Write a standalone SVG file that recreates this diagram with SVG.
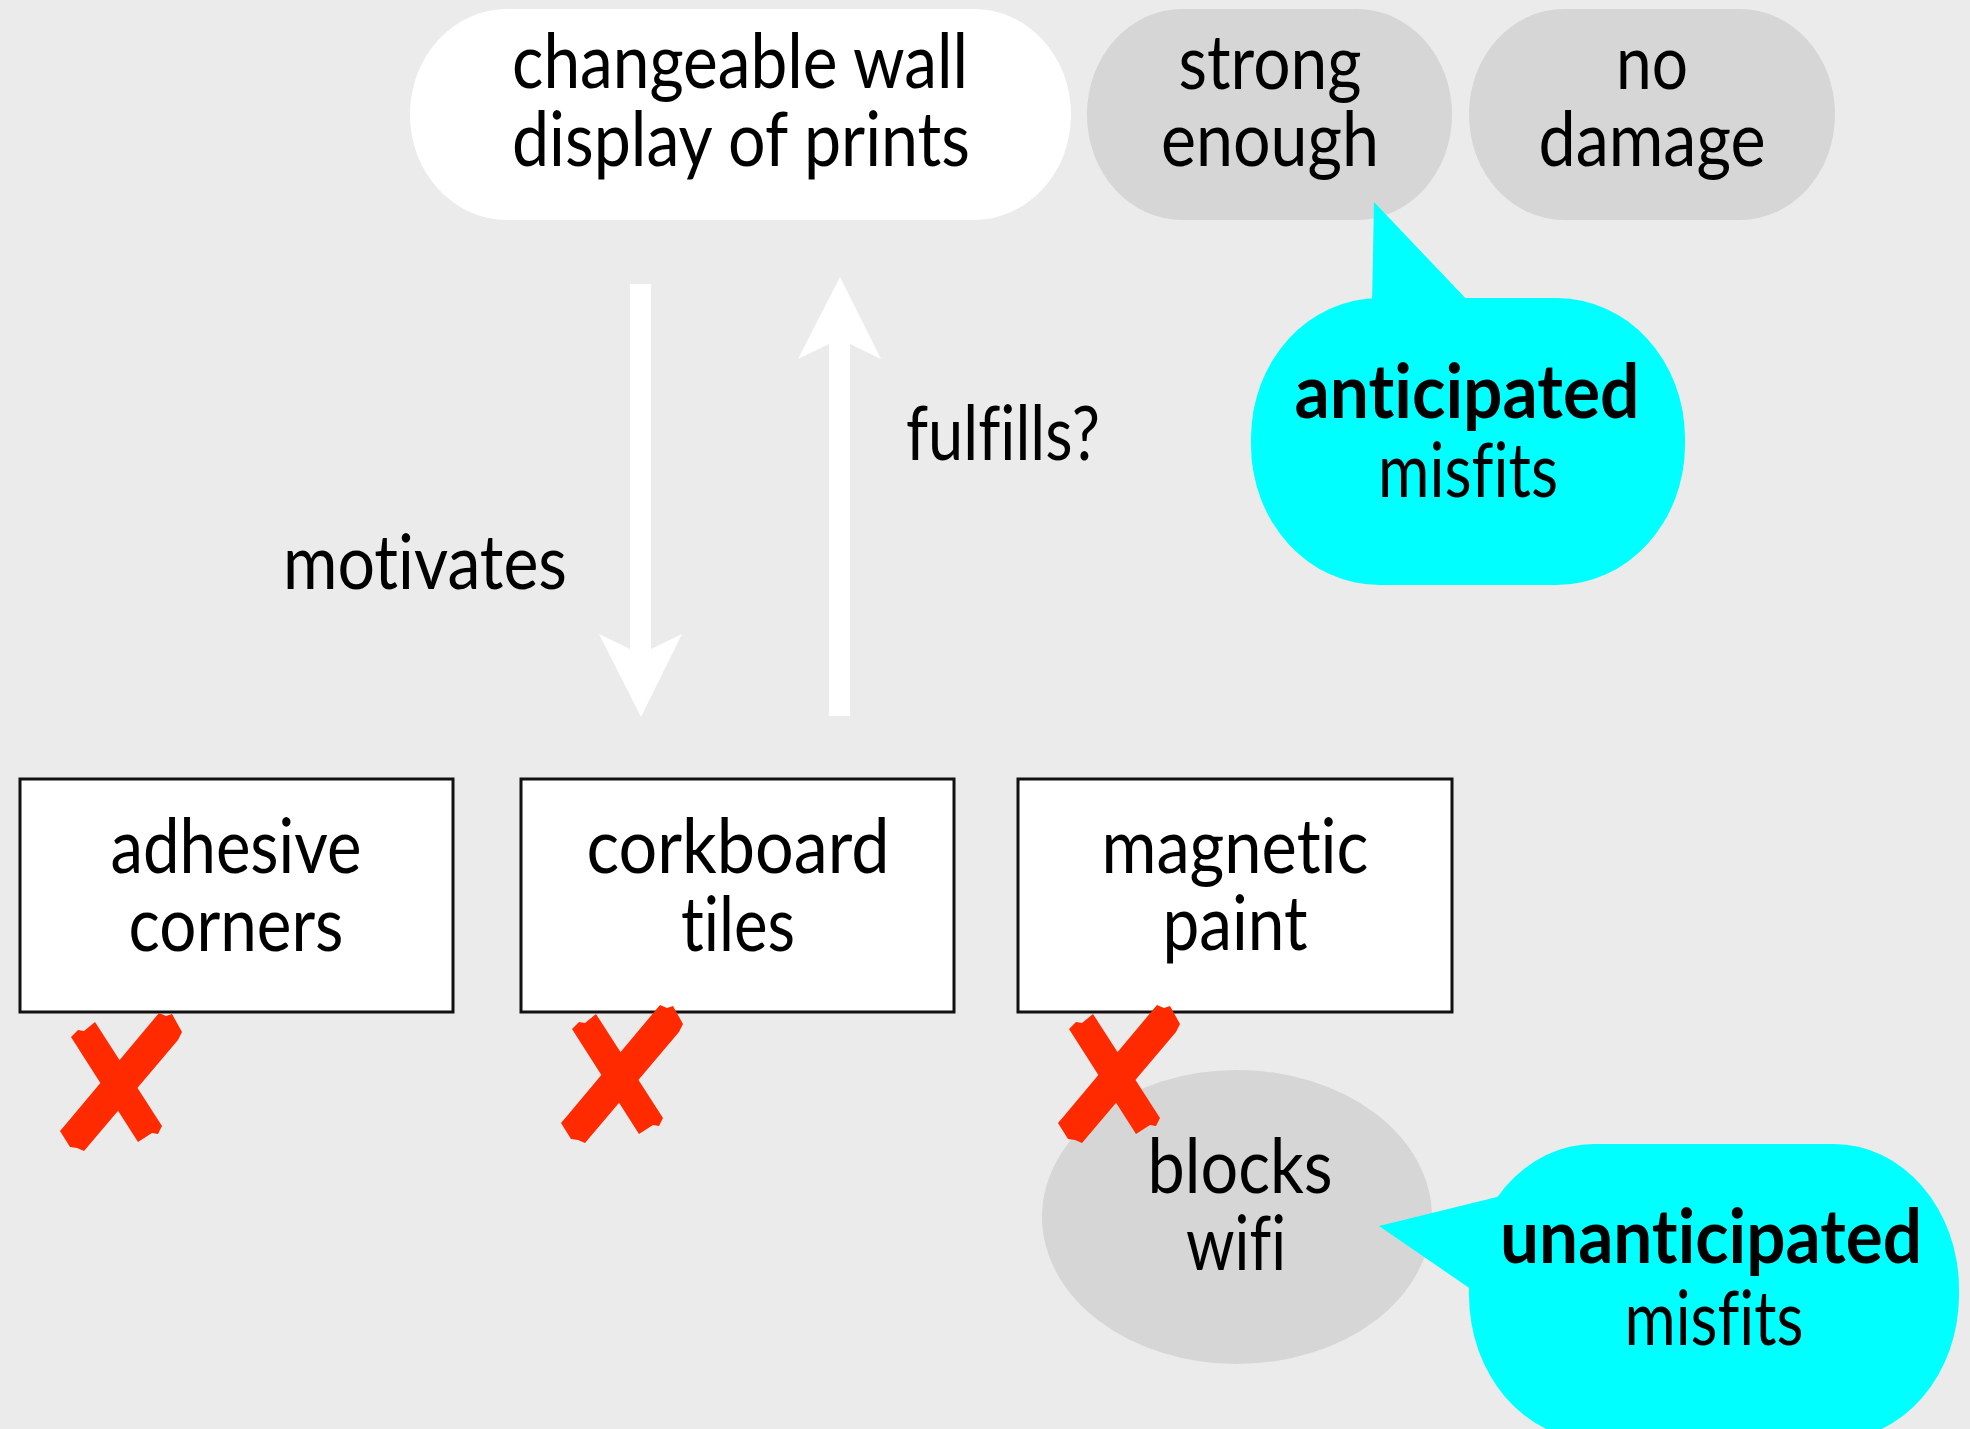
<svg xmlns="http://www.w3.org/2000/svg" width="1970" height="1429" viewBox="0 0 1970 1429">
<style>
.t{font-family:Lato,"Open Sans","Liberation Sans",sans-serif;font-size:75px;fill:#000;text-anchor:middle;font-variant-ligatures:none}
.b{font-weight:bold}
.pw{fill:#ffffff}
.pg{fill:#d6d6d6}
.box{fill:#ffffff;stroke:#111111;stroke-width:3}
.call{fill:#00ffff}
.arrow{fill:#ffffff}
.x{fill:#ff2a00}
</style>
<defs>
<g id="xmark">
<polygon class="x" points="71,1037 78,1030 84,1031 95,1022 162,1126 158,1134 152,1133 138,1142"/>
<polygon class="x" points="159,1013 166,1016 172,1014 182,1032 178,1040 84,1151 77,1148 70,1147 60,1131 66,1124"/>
</g>
</defs>
<rect x="0" y="0" width="1970" height="1429" fill="#ebebeb"/>

<g id="goal">
<rect class="pw" x="410" y="9" width="661" height="211" rx="97" ry="105"/>
<text class="t" x="740" y="88" textLength="456" lengthAdjust="spacingAndGlyphs">changeable wall</text>
<text class="t" x="741" y="166" textLength="458" lengthAdjust="spacingAndGlyphs">display of prints</text>
</g>

<g id="strong-enough">
<rect class="pg" x="1087" y="9" width="365" height="211" rx="95" ry="105"/>
<text class="t" x="1270" y="89" textLength="183" lengthAdjust="spacingAndGlyphs">strong</text>
<text class="t" x="1270" y="166" textLength="218" lengthAdjust="spacingAndGlyphs">enough</text>
</g>

<g id="no-damage">
<rect class="pg" x="1469" y="9" width="366" height="211" rx="95" ry="105"/>
<text class="t" x="1652" y="89" textLength="72" lengthAdjust="spacingAndGlyphs">no</text>
<text class="t" x="1652" y="166" textLength="227" lengthAdjust="spacingAndGlyphs">damage</text>
</g>

<g id="connectors">
<polygon class="arrow" points="630,284 651,284 651,649 682,634 641,717 599,634 630,649"/>
<polygon class="arrow" points="829,716 850,716 850,344 881,359 840,277 798,359 829,344"/>
<text class="t" x="425" y="589" textLength="284" lengthAdjust="spacingAndGlyphs">motivates</text>
<text class="t" x="1003" y="460" textLength="194" lengthAdjust="spacingAndGlyphs">fulfills?</text>
</g>

<g id="anticipated-misfits">
<polygon class="call" points="1372,304 1374,202 1471,304"/>
<rect class="call" x="1251" y="298" width="434" height="287" rx="128" ry="140"/>
<text class="t b" x="1467" y="418" textLength="345" lengthAdjust="spacingAndGlyphs">anticipated</text>
<text class="t" x="1468" y="497" textLength="180" lengthAdjust="spacingAndGlyphs">misfits</text>
</g>

<g id="adhesive-corners">
<rect class="box" x="20" y="779" width="433" height="233"/>
<text class="t" x="236" y="873" textLength="251" lengthAdjust="spacingAndGlyphs">adhesive</text>
<text class="t" x="236" y="951" textLength="215" lengthAdjust="spacingAndGlyphs">corners</text>
<use href="#xmark"/>
</g>

<g id="corkboard-tiles">
<rect class="box" x="521" y="779" width="433" height="233"/>
<text class="t" x="738" y="873" textLength="303" lengthAdjust="spacingAndGlyphs">corkboard</text>
<text class="t" x="738" y="951" textLength="114" lengthAdjust="spacingAndGlyphs">tiles</text>
<use href="#xmark" transform="translate(501,-8)"/>
</g>

<g id="blocks-wifi">
<ellipse class="pg" cx="1237" cy="1217" rx="195" ry="147"/>
<text class="t" x="1240" y="1193" textLength="185" lengthAdjust="spacingAndGlyphs">blocks</text>
<text class="t" x="1236" y="1270" textLength="100" lengthAdjust="spacingAndGlyphs">wifi</text>
</g>

<g id="magnetic-paint">
<rect class="box" x="1018" y="779" width="434" height="233"/>
<text class="t" x="1235" y="873" textLength="267" lengthAdjust="spacingAndGlyphs">magnetic</text>
<text class="t" x="1235" y="950" textLength="145" lengthAdjust="spacingAndGlyphs">paint</text>
<use href="#xmark" transform="translate(998,-8)"/>
</g>

<g id="unanticipated-misfits">
<polygon class="call" points="1505,1195 1379,1226 1478,1294"/>
<rect class="call" x="1469" y="1144" width="490" height="296" rx="125" ry="145"/>
<text class="t b" x="1711" y="1263" textLength="422" lengthAdjust="spacingAndGlyphs">unanticipated</text>
<text class="t" x="1714" y="1345" textLength="179" lengthAdjust="spacingAndGlyphs">misfits</text>
</g>
</svg>
